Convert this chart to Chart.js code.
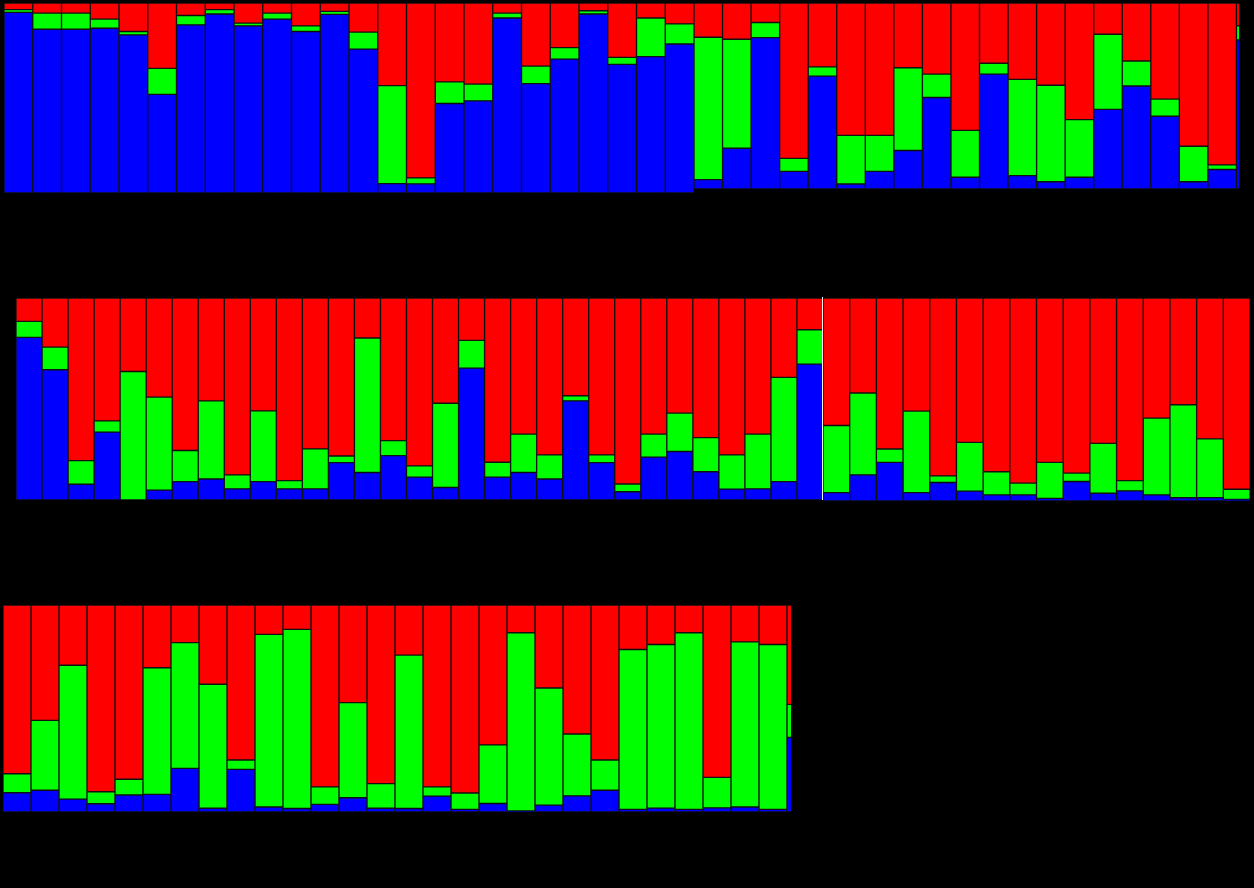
<!DOCTYPE html>
<html>
<head>
<meta charset="utf-8">
<script src="https://cdn.jsdelivr.net/npm/chart.js@4/dist/chart.umd.min.js"></script>
<style>
  html, body { margin: 0; padding: 0; background: #000; }
  body { width: 1254px; height: 888px; position: relative; overflow: hidden; }
  .panel { position: absolute; overflow: hidden; }
  .panel canvas { position: absolute; left: 0; top: 0; }
  .divider { position: absolute; background: #f4f4f4; }
</style>
</head>
<body>
<div class="panel" style="left:4px;top:3px;width:690px;height:190px;"><canvas id="r1a" width="690" height="190"></canvas></div>
<div class="panel" style="left:694px;top:3px;width:545px;height:186px;"><canvas id="r1b" width="571" height="186"></canvas></div>
<div class="panel" style="left:16px;top:298px;width:807px;height:202px;"><canvas id="r2a" width="807" height="202"></canvas></div>
<div class="divider" style="left:822px;top:297px;width:1px;height:203px;"></div>
<div class="panel" style="left:823px;top:298px;width:427px;height:203px;"><canvas id="r2b" width="427" height="203"></canvas></div>
<div class="panel" style="left:3px;top:605px;width:788px;height:207px;"><canvas id="r3" width="812" height="207"></canvas></div>

<script>
// Membership proportions per individual (K = 3 clusters), one panel per population block.
// Cluster colours: blue = cluster 1, green = cluster 2, red = cluster 3.

// Block 1a
const r1aBlue  = [0.951,0.862,0.862,0.867,0.832,0.519,0.885,0.942,0.880,0.915,0.850,0.940,0.757,0.049,0.048,0.471,0.485,0.921,0.576,0.705,0.942,0.677,0.718,0.784];
const r1aGreen = [0.014,0.085,0.085,0.048,0.018,0.137,0.049,0.023,0.014,0.032,0.030,0.016,0.090,0.516,0.032,0.114,0.088,0.026,0.092,0.060,0.017,0.037,0.203,0.106];
const r1aRed   = [0.035,0.053,0.053,0.085,0.150,0.344,0.066,0.035,0.106,0.053,0.120,0.044,0.153,0.435,0.920,0.415,0.427,0.053,0.332,0.235,0.041,0.286,0.079,0.110];

// Block 1b
const r1bBlue  = [0.050,0.219,0.814,0.095,0.607,0.027,0.095,0.207,0.492,0.063,0.618,0.072,0.039,0.063,0.428,0.554,0.391,0.039,0.105,0.801];
const r1bGreen = [0.766,0.586,0.081,0.070,0.050,0.261,0.193,0.445,0.126,0.252,0.058,0.517,0.519,0.310,0.404,0.134,0.092,0.191,0.025,0.076];
const r1bRed   = [0.184,0.195,0.105,0.835,0.343,0.712,0.712,0.348,0.382,0.685,0.324,0.411,0.442,0.627,0.168,0.312,0.517,0.770,0.870,0.123];

// Block 2a
const r2aBlue  = [0.805,0.645,0.078,0.336,0.000,0.049,0.091,0.104,0.055,0.091,0.055,0.055,0.185,0.136,0.220,0.113,0.062,0.653,0.113,0.136,0.104,0.491,0.185,0.041,0.212,0.240,0.140,0.054,0.055,0.091,0.673];
const r2aGreen = [0.079,0.112,0.117,0.056,0.636,0.460,0.154,0.387,0.069,0.350,0.041,0.198,0.033,0.666,0.074,0.056,0.417,0.137,0.074,0.190,0.119,0.025,0.038,0.038,0.114,0.190,0.169,0.169,0.271,0.516,0.170];
const r2aRed   = [0.116,0.243,0.805,0.608,0.364,0.491,0.755,0.509,0.876,0.559,0.904,0.747,0.782,0.198,0.706,0.831,0.521,0.210,0.813,0.674,0.777,0.484,0.777,0.921,0.674,0.570,0.691,0.777,0.674,0.393,0.157];

// Block 2b
const r2bBlue  = [0.041,0.129,0.190,0.041,0.091,0.049,0.030,0.030,0.013,0.096,0.038,0.050,0.030,0.016,0.017,0.008];
const r2bGreen = [0.331,0.403,0.066,0.402,0.033,0.240,0.114,0.058,0.177,0.041,0.246,0.050,0.378,0.458,0.289,0.050];
const r2bRed   = [0.628,0.468,0.744,0.557,0.876,0.711,0.856,0.912,0.810,0.863,0.716,0.900,0.592,0.526,0.694,0.942];

// Block 3
const r3Blue  = [0.093,0.105,0.062,0.040,0.082,0.085,0.211,0.018,0.206,0.024,0.017,0.037,0.069,0.018,0.017,0.077,0.013,0.041,0.005,0.033,0.078,0.105,0.013,0.019,0.013,0.020,0.024,0.013,0.360];
const r3Green = [0.092,0.338,0.647,0.058,0.076,0.612,0.607,0.599,0.045,0.834,0.865,0.084,0.459,0.119,0.741,0.044,0.079,0.283,0.861,0.566,0.299,0.146,0.772,0.790,0.853,0.147,0.798,0.796,0.160];
const r3Red   = [0.815,0.557,0.291,0.902,0.842,0.303,0.182,0.383,0.749,0.142,0.118,0.879,0.472,0.863,0.242,0.879,0.908,0.676,0.134,0.401,0.623,0.749,0.215,0.191,0.134,0.833,0.178,0.191,0.480];

// Individual IDs, numbered consecutively across blocks
const sampleIds = (start, count) => Array.from({ length: count }, (_, i) => 'Ind' + (start + i));
const r1aLabels = sampleIds(1, r1aBlue.length);
const r1bLabels = sampleIds(25, r1bBlue.length);
const r2aLabels = sampleIds(1, r2aBlue.length);
const r2bLabels = sampleIds(32, r2bBlue.length);
const r3Labels  = sampleIds(1, r3Blue.length);

const clusterColours = ['#0000ff', '#00ff00', '#ff0000'];

function structurePanel(id, labels, blue, green, red) {
  const series = [blue, green, red];
  new Chart(document.getElementById(id), {
    type: 'bar',
    data: {
      labels: labels,
      datasets: series.map((values, k) => ({
        label: 'Cluster ' + (k + 1),
        data: values,
        backgroundColor: clusterColours[k],
        borderColor: 'rgba(20,20,20,0.85)',
        borderWidth: 1,
        borderSkipped: false,
        categoryPercentage: 1.0,
        barPercentage: 1.0
      }))
    },
    options: {
      responsive: false,
      animation: false,
      devicePixelRatio: 1,
      layout: { padding: 0 },
      plugins: { legend: { display: false }, tooltip: { enabled: false } },
      scales: {
        x: { stacked: true, display: false, offset: true },
        y: { stacked: true, display: false, min: 0, max: 1 }
      }
    }
  });
}

structurePanel('r1a', r1aLabels, r1aBlue, r1aGreen, r1aRed);
structurePanel('r1b', r1bLabels, r1bBlue, r1bGreen, r1bRed);
structurePanel('r2a', r2aLabels, r2aBlue, r2aGreen, r2aRed);
structurePanel('r2b', r2bLabels, r2bBlue, r2bGreen, r2bRed);
structurePanel('r3',  r3Labels,  r3Blue,  r3Green,  r3Red);
</script>
</body>
</html>
